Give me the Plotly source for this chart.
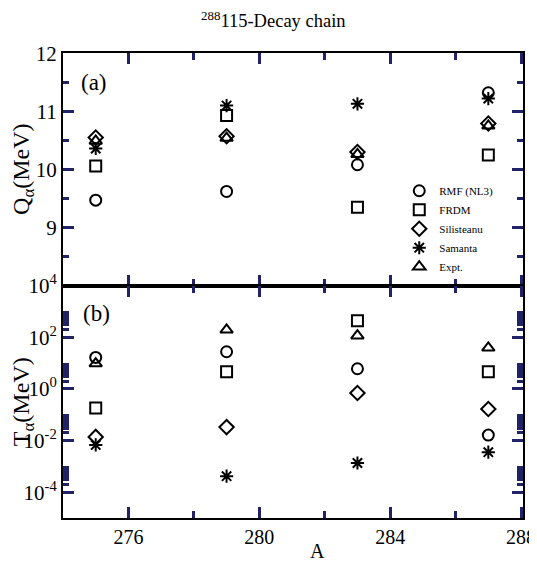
import plotly.graph_objects as go
from plotly.subplots import make_subplots

A = [275, 279, 283, 287]
series = ["RMF (NL3)", "FRDM", "Silisteanu", "Samanta", "Expt."]
symbols = ["circle-open", "square-open", "diamond-open", "asterisk-open", "triangle-up-open"]

Q_rmf = [9.47, 9.62, 10.08, 11.32]
Q_frdm = [10.06, 10.93, 9.35, 10.25]
Q_sil = [10.55, 10.57, 10.30, 10.79]
Q_sam = [10.36, 11.10, 11.13, 11.22]
Q_exp = [10.49, 10.54, 10.26, 10.75]

T_rmf = [10**1.22, 10**1.44, 10**0.78, 10**-1.79]
T_frdm = [10**-0.74, 10**0.66, 10**2.64, 10**0.66]
T_sil = [10**-1.86, 10**-1.48, 10**-0.16, 10**-0.78]
T_sam = [10**-2.17, 10**-3.38, 10**-2.87, 10**-2.45]
T_exp = [10**0.98, 10**2.29, 10**2.06, 10**1.59]

Qs = [Q_rmf, Q_frdm, Q_sil, Q_sam, Q_exp]
Ts = [T_rmf, T_frdm, T_sil, T_sam, T_exp]

x_ticks = [276, 280, 284, 288]
x_minor = [278, 282, 286]
q_ticks = [9, 10, 11, 12]
q_minor = [8.5, 9.5, 10.5, 11.5]
t_ticks = [1e4, 1e2, 1, 1e-2, 1e-4]
t_ticktext = ["10<sup>4</sup>", "10<sup>2</sup>", "10<sup>0</sup>", "10<sup>-2</sup>", "10<sup>-4</sup>"]
t_minor = [k * 10.0**d for d in (-4, -2, 0, 2) for k in range(2, 10)]

FONT = "Liberation Serif"
INK = "#222266"

fig = make_subplots(rows=2, cols=1, shared_xaxes=True, vertical_spacing=0)

for i, name in enumerate(series):
    fig.add_trace(go.Scatter(x=A, y=Qs[i], mode="markers", name=name,
                             marker=dict(symbol=symbols[i], size=11, color="black",
                                         line=dict(width=2, color="black")),
                             showlegend=True), row=1, col=1)
    fig.add_trace(go.Scatter(x=A, y=Ts[i], mode="markers", name=name,
                             marker=dict(symbol=symbols[i], size=11, color="black",
                                         line=dict(width=2, color="black")),
                             showlegend=False), row=2, col=1)

axis_common = dict(showline=True, linewidth=2, linecolor="black", mirror="allticks",
                   ticks="inside", tickcolor=INK, tickwidth=3, showgrid=False,
                   zeroline=False, automargin=False)

def minor(vals, ln):
    return dict(tickmode="array", tickvals=vals, ticks="inside", ticklen=ln,
                tickwidth=2.5, tickcolor=INK, showgrid=False)

fig.update_xaxes(range=[274, 288.06], tickmode="array", tickvals=x_ticks, ticklen=11,
                 tickfont=dict(family=FONT, size=20, color="black"),
                 minor=minor(x_minor, 7), **axis_common)
fig.update_xaxes(showticklabels=False, row=1, col=1)

fig.update_yaxes(range=[8, 12.005], tickmode="array", tickvals=q_ticks, ticklen=11,
                 tickfont=dict(family=FONT, size=21, color="black"),
                 minor=minor(q_minor, 6),
                 title=dict(text="Q<sub>α</sub>(MeV)", font=dict(family=FONT, size=24, color="black"),
                            standoff=0),
                 row=1, col=1, **axis_common)
fig.update_yaxes(type="log", range=[-5, 4.005], tickmode="array", tickvals=t_ticks, ticktext=t_ticktext,
                 ticklen=11, tickfont=dict(family=FONT, size=21, color="black"),
                 minor=minor(t_minor, 6),
                 title=dict(text="T<sub>α</sub>(MeV)", font=dict(family=FONT, size=24, color="black"),
                            standoff=0),
                 row=2, col=1, **axis_common)

fig.add_annotation(text="A", x=0.554, y=-0.07, xref="paper", yref="paper", showarrow=False,
                   xanchor="center", yanchor="middle", font=dict(family=FONT, size=20, color="black"))
fig.add_annotation(text="(a)", x=0.067, y=0.936, xref="paper", yref="paper", showarrow=False,
                   xanchor="center", yanchor="middle", font=dict(family=FONT, size=23, color="black"))
fig.add_annotation(text="(b)", x=0.072, y=0.44, xref="paper", yref="paper", showarrow=False,
                   xanchor="center", yanchor="middle", font=dict(family=FONT, size=23, color="black"))

fig.update_layout(
    width=537, height=563,
    margin=dict(l=55, r=22, t=45, b=53, autoexpand=False),
    plot_bgcolor="rgba(0,0,0,0)", paper_bgcolor="white",
    title=dict(text="<sup>288</sup>115-Decay chain", x=0.494, xanchor="center", y=0.977, yanchor="middle",
               font=dict(family=FONT, size=18.5, color="black")),
    legend=dict(x=0.731, y=0.735, xanchor="left", yanchor="top", bgcolor="rgba(0,0,0,0)",
                font=dict(family=FONT, size=11, color="black"), itemwidth=30,
                tracegroupgap=0),
)

fig.write_html("out.html")
